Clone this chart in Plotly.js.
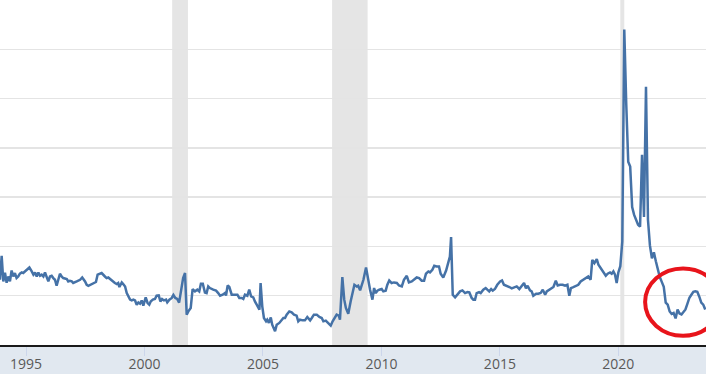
<!DOCTYPE html>
<html>
<head>
<meta charset="utf-8">
<script src="https://cdn.plot.ly/plotly-3.0.1.min.js"></script>
<style>html,body{margin:0;padding:0;background:#fff}#chart{width:706px;height:374px}</style>
</head>
<body>
<div id="chart"></div>
<script>
// Personal saving rate (percent); x in decimal years
const years = [
1993.90,1993.97,1994.04,1994.11,1994.18,1994.25,1994.32,1994.39,1994.46,1994.53,1994.60,1994.67,1994.74,1994.82,1994.88,1994.96,
1995.03,1995.14,1995.24,1995.31,1995.38,1995.45,1995.52,1995.59,1995.66,1995.73,1995.80,1995.87,1995.94,
1996.01,1996.08,1996.15,1996.22,1996.29,1996.36,1996.43,1996.50,1996.57,1996.72,1996.78,1996.85,1996.93,1996.99,
1997.07,1997.14,1997.28,1997.37,1997.49,1997.56,1997.63,1997.70,1997.84,1997.95,
1998.02,1998.12,1998.19,1998.33,1998.40,1998.47,1998.54,1998.66,1998.75,1998.83,1998.89,1998.94,
1999.04,1999.10,1999.18,1999.25,1999.32,1999.39,1999.46,1999.53,1999.60,1999.67,1999.74,1999.81,1999.88,1999.95,
2000.05,2000.13,2000.20,2000.26,2000.35,2000.44,2000.51,2000.60,2000.67,2000.74,2000.82,2000.91,2000.96,
2001.05,2001.15,2001.22,2001.30,2001.38,2001.46,2001.55,2001.63,2001.71,2001.78,2001.85,2001.95,
2002.03,2002.13,2002.23,2002.31,2002.38,2002.46,2002.55,2002.62,2002.69,2002.76,2002.90,
2003.02,2003.11,2003.19,2003.30,2003.40,2003.44,2003.51,2003.58,2003.68,2003.82,2003.92,
2004.00,2004.10,2004.17,2004.24,2004.34,2004.42,2004.50,2004.59,2004.66,2004.74,2004.85,2004.90,2004.97,
2005.04,2005.13,2005.18,2005.25,2005.33,2005.39,2005.51,2005.58,2005.69,2005.79,2005.86,2005.93,
2006.00,2006.11,2006.21,2006.31,2006.42,2006.49,2006.56,2006.68,2006.77,2006.87,2006.99,
2007.06,2007.15,2007.27,2007.38,2007.48,2007.55,2007.65,2007.76,2007.86,2007.94,
2008.04,2008.11,2008.20,2008.25,2008.35,2008.43,2008.50,2008.60,2008.70,2008.79,2008.86,2008.96,
2009.02,2009.10,2009.17,2009.24,2009.35,2009.42,2009.52,2009.62,2009.69,2009.76,2009.83,2009.91,
2010.01,2010.08,2010.18,2010.25,2010.33,2010.43,2010.53,2010.65,2010.74,2010.86,2010.95,
2011.07,2011.16,2011.28,2011.38,2011.49,2011.59,2011.70,2011.80,2011.88,2011.98,
2012.05,2012.15,2012.23,2012.33,2012.43,2012.50,2012.61,2012.73,2012.82,2012.89,2012.94,
2013.01,2013.11,2013.20,2013.32,2013.42,2013.53,2013.63,2013.71,2013.81,2013.88,2013.95,
2014.02,2014.12,2014.19,2014.30,2014.40,2014.47,2014.55,2014.63,2014.70,2014.79,2014.89,
2015.01,2015.09,2015.17,2015.29,2015.40,2015.50,2015.61,2015.71,2015.82,2015.92,
2016.02,2016.10,2016.17,2016.27,2016.34,2016.41,2016.53,2016.62,2016.72,2016.81,2016.91,2016.98,
2017.07,2017.16,2017.26,2017.36,2017.44,2017.54,2017.65,2017.75,2017.85,2017.93,
2018.00,2018.10,2018.21,2018.31,2018.41,2018.52,2018.62,2018.73,2018.83,2018.90,2018.99,
2019.09,2019.16,2019.26,2019.37,2019.47,2019.55,2019.65,2019.72,2019.79,2019.86,2019.93,
2020.000,2020.083,2020.167,2020.250,2020.333,2020.417,2020.500,2020.583,2020.667,2020.750,2020.833,2020.917,
2021.000,2021.083,2021.167,2021.250,2021.333,2021.417,2021.500,2021.583,2021.667,2021.750,2021.833,2021.917,
2022.000,2022.083,2022.167,2022.250,2022.333,2022.417,2022.500,2022.583,2022.667,2022.750,2022.833,2022.917,
2023.000,2023.083,2023.167,2023.250,2023.333,2023.417,2023.500,2023.583,2023.667
];
const savingRate = [
6.62,9.05,6.45,7.33,6.32,6.95,6.45,7.56,6.95,7.30,6.79,6.95,7.23,7.36,7.30,7.46,
7.63,7.86,7.46,7.13,7.36,6.95,7.36,7.02,7.13,6.95,7.36,6.79,6.45,
6.95,7.02,6.79,6.62,6.01,6.79,7.23,6.95,6.79,6.69,6.45,6.52,6.45,6.29,
6.35,6.45,6.62,6.85,6.45,6.11,6.01,6.11,6.29,6.39,
7.13,7.23,7.30,6.95,6.79,6.85,6.69,6.45,6.29,6.18,6.29,5.88,
6.35,6.18,5.94,5.27,4.87,4.60,4.52,4.60,4.52,4.09,4.32,4.19,4.52,3.99,
4.83,4.26,4.09,4.42,4.60,4.67,5.00,5.03,4.42,4.67,4.52,4.60,4.32,
4.60,4.77,5.07,4.77,4.67,4.30,5.60,6.79,7.30,3.08,3.41,3.76,
5.68,5.44,5.61,5.44,6.21,6.21,5.33,5.27,5.94,5.78,5.61,
5.51,5.27,5.00,5.10,5.27,5.03,6.04,5.88,5.10,5.10,5.10,
4.77,4.77,4.67,5.10,5.00,5.61,4.93,4.83,4.42,4.09,3.58,6.29,3.92,
2.74,2.40,2.57,2.24,2.80,2.06,1.39,2.06,2.24,2.50,2.74,2.74,
3.08,3.41,3.31,3.08,2.98,2.40,2.57,2.50,2.50,2.84,2.50,
2.74,3.08,3.08,2.84,2.74,2.40,2.47,2.24,1.96,2.40,
2.74,3.08,2.98,2.57,6.89,4.60,3.76,3.18,4.42,5.44,6.11,5.94,
6.01,5.54,6.01,6.62,7.86,6.79,5.61,4.60,5.78,5.27,5.51,5.61,
5.68,5.44,5.51,6.11,6.55,6.29,6.35,6.29,6.04,5.94,6.62,
7.02,6.35,6.45,6.62,6.85,6.79,6.52,6.52,7.23,7.46,
7.36,7.63,8.04,7.97,7.97,7.23,6.85,7.56,8.31,8.98,10.94,
5.10,4.83,5.10,5.44,5.54,5.27,5.37,5.33,4.77,4.60,4.60,
5.27,5.37,5.27,5.61,5.78,5.61,5.44,5.68,5.51,5.68,6.11,
6.45,6.55,6.11,6.01,5.88,5.74,5.88,5.94,5.68,5.94,
6.29,5.74,6.01,5.54,5.44,5.00,5.20,5.20,5.27,5.61,5.10,5.44,
5.61,5.78,5.88,6.52,6.04,6.11,6.11,6.01,6.11,5.00,
5.78,5.88,6.04,6.11,6.45,6.62,6.85,6.95,6.62,8.64,8.31,
8.71,8.14,7.80,7.46,7.02,7.23,7.36,7.23,7.46,7.13,6.29,
7.36,8.00,10.5,32.0,24.5,18.6,18.1,14.0,13.2,12.7,12.2,12.0,
19.3,13.0,26.2,12.7,10.1,8.8,9.4,8.5,7.6,6.9,6.4,5.9,
4.3,4.1,3.4,3.15,3.25,2.7,3.6,3.2,3.1,3.3,3.6,4.2,
4.8,5.1,5.4,5.45,5.4,4.9,4.3,4.1,3.6
];
// NBER recessions (decimal years)
const recessionStart = [2001.167, 2007.917, 2020.083];
const recessionEnd   = [2001.833, 2009.417, 2020.250];
// x-axis ticks
const tickYears  = [1995, 2000, 2005, 2010, 2015, 2020];
const tickLabels = ['1995', '2000', '2005', '2010', '2015', '2020'];
// highlighted region (red ellipse), data units
const highlightX = [2021.13, 2024.33];
const highlightY = [0.93, 7.77];

const shapes = recessionStart.map((s, i) => ({
  type: 'rect', xref: 'x', yref: 'paper', x0: s, x1: recessionEnd[i], y0: 0, y1: 1,
  fillcolor: '#e5e5e5', line: {width: 0}, layer: 'below'
}));
shapes.push({
  type: 'circle', xref: 'x', yref: 'y',
  x0: highlightX[0], x1: highlightX[1], y0: highlightY[0], y1: highlightY[1],
  line: {color: '#e8141b', width: 4}, layer: 'above'
});

const trace = {
  x: years, y: savingRate, type: 'scatter', mode: 'lines',
  line: {color: '#4572a7', width: 2.5}, hoverinfo: 'skip'
};

const layout = {
  width: 706, height: 374,
  margin: {l: 0, r: 0, t: 0, b: 29, pad: 0},
  paper_bgcolor: '#e1e8f0',
  plot_bgcolor: '#ffffff',
  showlegend: false,
  font: {family: '"Open Sans", sans-serif', size: 14, color: '#595959'},
  xaxis: {
    type: 'linear', range: [1993.90, 2023.70],
    tickmode: 'array', tickvals: tickYears, ticktext: tickLabels,
    showgrid: false, zeroline: false,
    showline: true, linecolor: '#1a1a1a', linewidth: 2,
    ticks: 'outside', ticklen: 9, tickwidth: 1, tickcolor: '#ccd6eb',
    ticklabelstandoff: -4,
    tickfont: {family: '"Open Sans", sans-serif', size: 14, color: '#595959'}
  },
  yaxis: {
    range: [0, 35], dtick: 5, showticklabels: false, ticks: '',
    showgrid: true, gridcolor: '#e4e4e4', gridwidth: 1.5,
    zeroline: false, showline: false
  },
  shapes: shapes
};

Plotly.newPlot('chart', [trace], layout, {displayModeBar: false, staticPlot: true});
</script>
</body>
</html>
